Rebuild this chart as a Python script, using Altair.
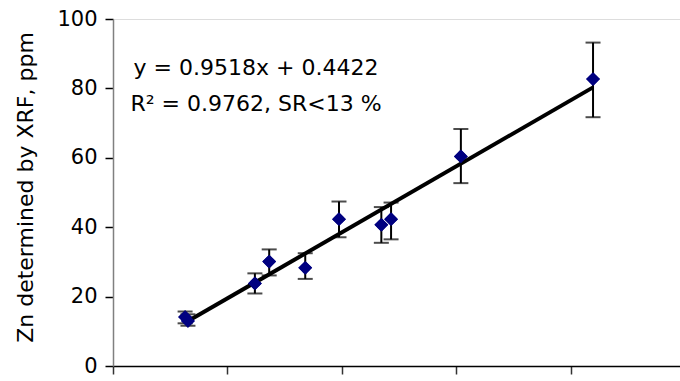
import altair as alt
import pandas as pd

# Zn reference concentration (x) vs. XRF result (y), with error-bar limits
zn_reference = [12.6, 13.1, 24.8, 27.3, 33.6, 39.5, 46.9, 48.6, 60.8, 83.9]
zn_xrf = [14.1, 13.0, 23.8, 30.1, 28.3, 42.3, 40.7, 42.3, 60.4, 82.7]
err_high = [15.7, 14.9, 26.7, 33.6, 32.5, 47.4, 45.8, 47.1, 68.3, 93.2]
err_low = [12.3, 11.6, 20.9, 26.1, 25.1, 37.1, 35.5, 36.5, 52.7, 71.7]

# Fitted line as reported in the annotation
slope = 0.9518
intercept = 0.4422
equation_lines = ["y = 0.9518x + 0.4422", "R\u00b2 = 0.9762, SR<13 %"]

y_ticks = [0, 20, 40, 60, 80, 100]
x_ticks = [0, 20, 40, 60, 80]

points = pd.DataFrame({"ref": zn_reference, "xrf": zn_xrf,
                       "hi": err_high, "lo": err_low})
x_ends = [min(zn_reference), max(zn_reference)]
fit = pd.DataFrame({"ref": x_ends,
                    "xrf": [slope * v + intercept for v in x_ends]})

FONT = "DejaVu Sans"

x_scale = alt.Scale(domain=[0, 99.1], nice=False, zero=False)
y_scale = alt.Scale(domain=[0, 100], nice=False)

x_axis = alt.Axis(
    values=x_ticks, labels=False, title=None, grid=False,
    domainColor="#000000", domainWidth=1.5,
    tickColor="#333333", tickWidth=1.5, tickSize=8)
y_axis = alt.Axis(
    values=y_ticks, grid=False, title="Zn determined by XRF, ppm",
    titleFont=FONT, titleFontSize=22, titleFontWeight="normal",
    titleColor="#000000", titleX=-88, titleY=168, titleAngle=-90,
    titleAlign="center", titleBaseline="middle",
    labelFont=FONT, labelFontSize=21, labelColor="#000000",
    labelPadding=8, domainColor="#808080", domainWidth=1.5,
    tickColor="#000000", tickWidth=1.5, tickSize=8)


def xpos(field="ref"):
    return alt.X(f"{field}:Q", scale=x_scale, axis=x_axis)


def ypos(field):
    return alt.Y(f"{field}:Q", scale=y_scale, axis=y_axis)


dots = alt.Chart(points).mark_point(
    shape="diamond", filled=True, color="#000080", opacity=1, size=190).encode(
    x=xpos(), y=ypos("xrf"))

bars = alt.Chart(points).mark_rule(color="#000000", strokeWidth=2).encode(
    x=xpos(), y=ypos("lo"), y2="hi:Q")

cap_hi = alt.Chart(points).mark_tick(
    color="#000000", thickness=2, size=15, orient="horizontal").encode(
    x=xpos(), y=ypos("hi"))
cap_lo = alt.Chart(points).mark_tick(
    color="#000000", thickness=2, size=15, orient="horizontal").encode(
    x=xpos(), y=ypos("lo"))

trend = alt.Chart(fit).mark_line(color="#000000", strokeWidth=4).encode(
    x=xpos(), y=ypos("xrf"))


def note(line, ypix):
    return alt.Chart(pd.DataFrame({"text": [line]})).mark_text(
        font=FONT, fontSize=22, color="#000000", align="center",
        baseline="middle").encode(
        x=alt.value(143), y=alt.value(ypix), text="text:N")


chart = alt.layer(
    dots, bars, cap_hi, cap_lo, trend, dots,
    note(equation_lines[0], 49), note(equation_lines[1], 85),
).properties(
    width=567, height=347,
    autosize=alt.AutoSizeParams(type="none"),
    padding={"left": 113, "top": 19, "right": 0, "bottom": 15},
).configure_view(stroke=None).configure(background="#ffffff")

chart.save("out.html", embed_options={"renderer": "svg", "actions": False})
